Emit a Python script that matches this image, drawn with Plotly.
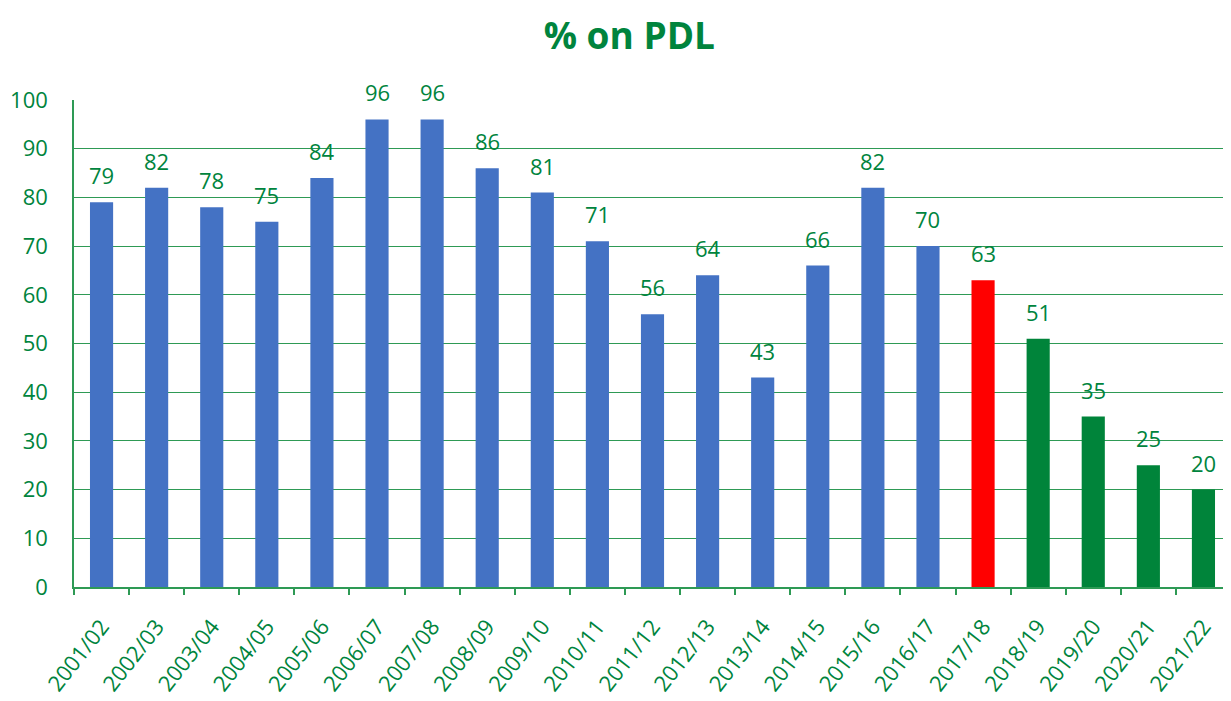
import plotly.graph_objects as go

years = ["2001/02","2002/03","2003/04","2004/05","2005/06","2006/07","2007/08",
         "2008/09","2009/10","2010/11","2011/12","2012/13","2013/14","2014/15",
         "2015/16","2016/17","2017/18","2018/19","2019/20","2020/21","2021/22"]
values = [79, 82, 78, 75, 84, 96, 96, 86, 81, 71, 56, 64, 43, 66, 82, 70, 63, 51, 35, 25, 20]
groups = ["past"]*16 + ["current"] + ["target"]*4

BLUE = "#4472C4"
RED = "#FF0000"
GREEN = "#00843A"
TXT = "#00843D"
GRID = "#2E9A55"
color_map = {"past": BLUE, "current": RED, "target": GREEN}

fig = go.Figure()
fig.add_trace(go.Bar(
    x=years, y=values,
    marker=dict(color=[color_map[g] for g in groups], line=dict(width=0)),
    hoverinfo="x+y",
))

for x, v in zip(years, values):
    fig.add_annotation(x=x, y=v, text=str(v), showarrow=False, yshift=27,
                       yanchor="middle", font=dict(size=22, color=TXT, family="Open Sans"))

fig.update_layout(
    width=1223, height=693,
    margin=dict(l=66, r=0, t=92, b=114),
    paper_bgcolor="white", plot_bgcolor="white",
    bargap=0.58,
    showlegend=False,
    font=dict(family="Open Sans", color=TXT),
    title=dict(text="<b>% on PDL</b>", x=0.508, xref="container", xanchor="center",
               y=0.96, yanchor="middle",
               font=dict(size=37, color=TXT, family="Open Sans")),
)
fig.update_yaxes(range=[0, 100], dtick=10, showgrid=True, gridcolor=GRID, gridwidth=1.3,
                 showline=True, linecolor=GRID, linewidth=1.5,
                 tickfont=dict(size=22, color=TXT), ticks="", ticklabelstandoff=20,
                 zeroline=False)
fig.update_xaxes(showline=True, linecolor=GRID, linewidth=2, ticks="outside",
                 tickson="boundaries", ticklen=6, tickcolor=GRID, tickwidth=1.5,
                 tickangle=-52, tickfont=dict(size=22, color=TXT), ticklabelstandoff=16)

fig.write_html("out.html")
